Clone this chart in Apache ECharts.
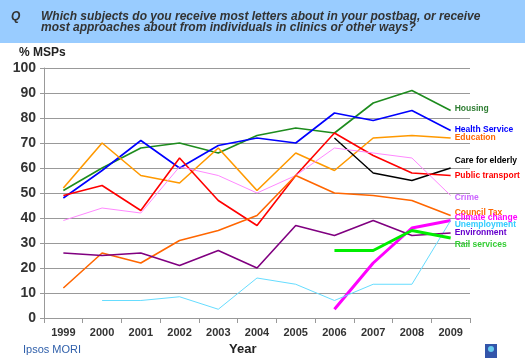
<!DOCTYPE html>
<html><head><meta charset="utf-8">
<script src="https://cdn.jsdelivr.net/npm/echarts@6/dist/echarts.min.js"></script>
<style>html,body{margin:0;padding:0;background:#fff}#c{width:525px;height:364px}</style>
</head><body><div id="c"></div>
<script>
const years = ['1999','2000','2001','2002','2003','2004','2005','2006','2007','2008','2009'];
const yTicks = [0,10,20,30,40,50,60,70,80,90,100];
const housing = [51,60,68,70,66,73,76,74,86,91,83];
const healthService = [48,59,71,60,69,72,70,82,79,83,75];
const education = [52,70,57,54,68,51,66,59,72,73,72];
const careElderly = [null,null,null,null,null,null,null,72,58,55,60];
const publicTransport = [49,53,43,64,47,37,57,74,65,58,57];
const crime = [39,44,42,60.5,57,50,57,68,66,64,49];
const councilTax = [12,26,22,31,35,41,57,50,49,47,41];
const climateChange = [null,null,null,null,null,null,null,3.5,22,36,39];
const unemployment = [null,7,7,8.5,3.5,16,13.5,7,13.5,13.5,39];
const environment = [26,25,26,21,27,20,37,33,39,33,34];
const railServices = [null,null,null,null,null,null,null,27,27,35,32];

const defs = [
  ['Housing', housing, '#1E8C1E', '#2E7D32', 1.6, -2],
  ['Health Service', healthService, '#0000FF', '#0000FF', 1.6, -1],
  ['Education', education, '#FF9900', '#FF6600', 1.6, 0],
  ['Care for elderly', careElderly, '#000000', '#000000', 1.4, -7],
  ['Public transport', publicTransport, '#FF0000', '#FF0000', 1.6, 0],
  ['Crime', crime, '#FF88FF', '#CC66FF', 1, 2],
  ['Council Tax', councilTax, '#FF6600', '#FF6600', 1.6, -3],
  ['Climate change', climateChange, '#FF00FF', '#FF00FF', 3, -3],
  ['Unemployment', unemployment, '#66DDFF', '#33CCFF', 1, 4],
  ['Environment', environment, '#800080', '#6600CC', 1.6, 0],
  ['Rail services', railServices, '#00EE00', '#33CC33', 3, 7]
];

const chart = echarts.init(document.getElementById('c'), null, {renderer:'canvas'});
chart.setOption({
  animation:false,
  backgroundColor:'#fff',
  grid:{left:44,right:55,top:68,bottom:46},
  xAxis:{type:'category',data:years,boundaryGap:true,
    axisLine:{lineStyle:{color:'#999',width:1}},
    axisTick:{show:true,lineStyle:{color:'#999'},length:5},
    axisLabel:{color:'#333',fontWeight:'bold',fontSize:11,fontFamily:'Liberation Sans, Arial',margin:9}},
  yAxis:{type:'value',min:0,max:100,interval:10,
    axisLine:{show:true,lineStyle:{color:'#999'}},
    axisTick:{show:true,lineStyle:{color:'#999'},length:4},
    splitLine:{lineStyle:{color:'#999',width:1}},
    axisLabel:{color:'#333',fontWeight:'bold',fontSize:14,fontFamily:'Liberation Sans, Arial',margin:8,
      formatter:v=>yTicks.includes(v)?String(v):''}},
  graphic:[
    {type:'rect',shape:{x:0,y:0,width:525,height:43},style:{fill:'#99CCFF'}},
    {type:'text',x:11,y:11,style:{text:'Q',fill:'#333',font:'italic bold 12px Liberation Sans, Arial'}},
    {type:'text',x:41,y:11,style:{text:'Which subjects do you receive most letters about in your postbag, or receive\nmost approaches about from individuals in clinics or other ways?',fill:'#333',font:'italic bold 12px Liberation Sans, Arial',lineHeight:11}},
    {type:'text',x:19,y:47,style:{text:'% MSPs',fill:'#222',font:'bold 12px Liberation Sans, Arial'}},
    {type:'text',x:229,y:343,style:{text:'Year',fill:'#222',font:'bold 13px Liberation Sans, Arial'}},
    {type:'text',x:23,y:344,style:{text:'Ipsos MORI',fill:'#2F5FAA',font:'11px Liberation Sans, Arial'}},
    {type:'rect',shape:{x:485,y:344,width:12,height:14},style:{fill:'#3355AA'}},
    {type:'circle',shape:{cx:491,cy:349,r:3},style:{fill:'#66CCEE'}}
  ],
  series: defs.map(d=>({
    name:d[0],type:'line',data:d[1],symbol:'none',connectNulls:false,
    lineStyle:{color:d[2],width:d[4]},
    endLabel:{show:true,formatter:d[0],color:d[3],fontWeight:'bold',fontSize:8.5,
      fontFamily:'Liberation Sans, Arial',distance:4,offset:[0,d[5]]}
  }))
});
</script></body></html>
